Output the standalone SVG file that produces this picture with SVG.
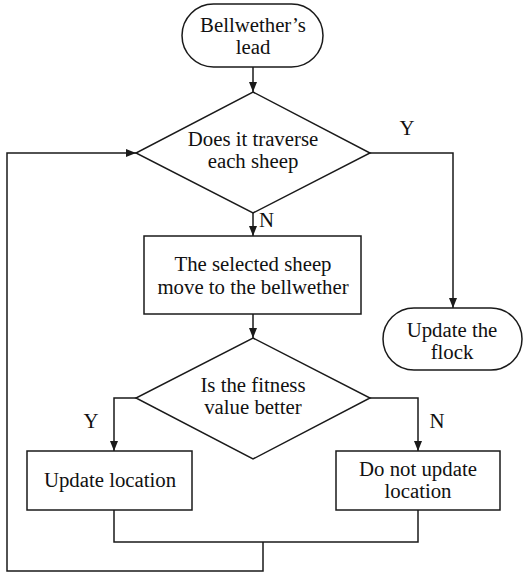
<svg xmlns="http://www.w3.org/2000/svg" width="525" height="582" viewBox="0 0 525 582">
<style>
.s{fill:#fff;stroke:#1a1a1a;stroke-width:1.5}
.c{fill:none;stroke:#1a1a1a;stroke-width:1.5}
.t{font-family:'Liberation Serif','Times New Roman','DejaVu Serif',serif;font-size:20.8px;fill:#111;text-anchor:middle}
.l{text-anchor:start}
</style>
<defs>
<marker id="a" viewBox="0 0 10 8" refX="10" refY="4" markerWidth="10" markerHeight="8" markerUnits="userSpaceOnUse" orient="auto">
<path d="M0,0 L10,4 L0,8 Z" fill="#1a1a1a"/>
</marker>
</defs>
<rect width="525" height="582" fill="#fff"/>
<g id="connectors">
<path class="c" d="M253,67 V92" marker-end="url(#a)"/>
<path class="c" d="M253,213 V236" marker-end="url(#a)"/>
<path class="c" d="M370,153 H453 V308" marker-end="url(#a)"/>
<path class="c" d="M253,314 V338" marker-end="url(#a)"/>
<path class="c" d="M136,398 H114 V451" marker-end="url(#a)"/>
<path class="c" d="M370,398 H418 V451" marker-end="url(#a)"/>
<path class="c" d="M114,510 V542 H418 V510"/>
<path class="c" d="M263,542 V571 H7 V153 H136" marker-end="url(#a)"/>
<text class="t" x="407" y="135">Y</text>
<text class="t l" x="259" y="227">N</text>
<text class="t" x="91" y="428">Y</text>
<text class="t" x="437" y="428">N</text>
</g>
<g id="start">
<rect class="s" x="182" y="4" width="141" height="63" rx="31.5"/>
<text class="t" x="253" y="32">Bellwether’s</text>
<text class="t" x="253" y="54">lead</text>
</g>
<g id="traverse">
<path class="s" d="M253,92 L370,153 L253,213 L136,153 Z"/>
<text class="t" x="253" y="146">Does it traverse</text>
<text class="t" x="253" y="168">each sheep</text>
</g>
<g id="move">
<rect class="s" x="144" y="236" width="217" height="78"/>
<text class="t" x="253" y="271">The selected sheep</text>
<text class="t" x="253" y="294">move to the bellwether</text>
</g>
<g id="fitness">
<path class="s" d="M253,338 L370,398 L253,459 L136,398 Z"/>
<text class="t" x="253" y="392">Is the fitness</text>
<text class="t" x="253" y="414">value better</text>
</g>
<g id="update">
<rect class="s" x="27" y="451" width="165" height="59"/>
<text class="t" x="110" y="487">Update location</text>
</g>
<g id="noupdate">
<rect class="s" x="336" y="451" width="164" height="59"/>
<text class="t" x="418" y="476">Do not update</text>
<text class="t" x="418" y="498">location</text>
</g>
<g id="flock">
<rect class="s" x="383" y="308" width="139" height="62" rx="31"/>
<text class="t" x="452" y="337">Update the</text>
<text class="t" x="452" y="359">flock</text>
</g>
</svg>
